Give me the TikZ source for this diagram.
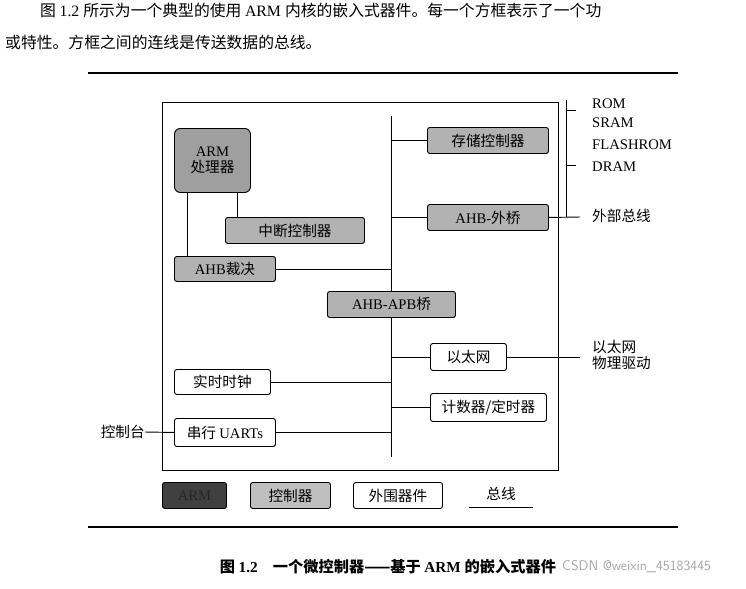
\documentclass[tikz,border=0pt]{standalone}
\usepackage{fontspec}
\setmainfont{Liberation Serif}
\newfontfamily\cjk{Noto Sans CJK SC}
\newcommand{\zh}[1]{{\cjk #1}}
\begin{document}
\begin{tikzpicture}[x=0.03cm,y=-0.03cm,
  every node/.style={font=\fontsize{12.5}{14}\selectfont, inner sep=0pt},
  box/.style={draw, line width=0.8pt, rounded corners=2pt, anchor=north west},
  ctl/.style={box, fill=gray!60},
  arm/.style={box, fill=gray!75, rounded corners=5pt},
  per/.style={box, fill=white},
  bus/.style={line width=0.8pt},
  lbl/.style={anchor=west, align=left}]
\useasboundingbox (0,0) rectangle (746,589);
% top text
\node[anchor=west, font=\fontsize{13.5}{16}\selectfont] (t1) at (40,10) {\zh{图 }1.2 \zh{所示为一个典型的使用 }ARM \zh{内核的嵌入式器件。每一个方框表示了一个功}};
\node[anchor=west, font=\fontsize{13.5}{16}\selectfont] (t2) at (5,42) {\zh{或特性。方框之间的连线是传送数据的总线。}};
\draw[line width=1pt] (88,73) -- (678,73);
\draw[line width=1pt] (88,527) -- (678,527);
% main frame
\draw[line width=0.8pt] (162,102) rectangle (558,470);
% nodes
\node[arm, minimum width=76*0.03cm, minimum height=64*0.03cm, align=center] (armp) at (174,128) {ARM\\\zh{处理器}};
\node[ctl, minimum width=121*0.03cm, minimum height=26*0.03cm] (mem) at (427,127) {\zh{存储控制器}};
\node[ctl, minimum width=121*0.03cm, minimum height=26*0.03cm] (ext) at (427,204) {AHB-\zh{外桥}};
\node[ctl, minimum width=139*0.03cm, minimum height=26*0.03cm] (irq) at (225,217) {\zh{中断控制器}};
\node[ctl, minimum width=101*0.03cm, minimum height=25*0.03cm] (arb) at (174,256) {AHB\zh{裁决}};
\node[ctl, minimum width=128*0.03cm, minimum height=26*0.03cm] (apb) at (327,291) {AHB-APB\zh{桥}};
\node[per, minimum width=76*0.03cm, minimum height=27*0.03cm] (eth) at (430,343) {\zh{以太网}};
\node[per, minimum width=96*0.03cm, minimum height=25*0.03cm] (rtc) at (174,369) {\zh{实时时钟}};
\node[per, minimum width=116*0.03cm, minimum height=28*0.03cm] (tmr) at (430,393) {\zh{计数器/定时器}};
\node[per, minimum width=101*0.03cm, minimum height=28*0.03cm] (uart) at (174,418) {\zh{串行 }UARTs};
% bus
\coordinate (bt) at (391,116);
\coordinate (bb) at (391,457);
\draw[bus] (bt) -- (apb.north -| bt);
\draw[bus] (apb.south -| bt) -- (bb);
\draw[bus] (mem.west -| bt) -- (mem.west);
\draw[bus] (ext.west -| bt) -- (ext.west);
\draw[bus] (arb.east) -- (arb.east -| bt);
\draw[bus] (eth.west -| bt) -- (eth.west);
\draw[bus] (rtc.east) -- (rtc.east -| bt);
\draw[bus] (tmr.west -| bt) -- (tmr.west);
\draw[bus] (uart.east) -- (uart.east -| bt);
\draw[bus] (armp.south -| 187,0) -- (arb.north -| 187,0);
\draw[bus] (armp.south -| 237,0) -- (irq.north -| 237,0);
% external
\coordinate (xe) at (580,217);
\draw[bus] (ext.east) -- (xe);
\draw[bus] (566,100) -- (566,217);
\draw[bus] (566,110) -- (576,110);
\draw[bus] (566,165) -- (576,165);
\node[lbl] (rom) at (592,104) {ROM};
\node[lbl] (sram) at (592,123) {SRAM};
\node[lbl] (flash) at (592,145) {FLASHROM};
\node[lbl] (dram) at (592,167) {DRAM};
\node[lbl] (xbus) at (592,216) {\zh{外部总线}};
\node[lbl, align=left] (phy) at (592,355) {\zh{以太网}\\\zh{物理驱动}};
\coordinate (pe) at (580,356);
\draw[bus] (eth.east) -- (eth.east -| pe);
\node[anchor=east] (con) at (145,432) {\zh{控制台}};
\draw[bus] (con.east) -- (uart.west);
% legend
\node[box, fill=black!75, minimum width=64*0.03cm, minimum height=26*0.03cm, text=black!85] (l1) at (162,482) {ARM};
\node[box, fill=gray!50, minimum width=80*0.03cm, minimum height=26*0.03cm] (l2) at (250,482) {\zh{控制器}};
\node[per, minimum width=89*0.03cm, minimum height=26*0.03cm] (l3) at (353,482) {\zh{外围器件}};
\node (l4) at (501,494) {\zh{总线}};
\draw[bus] (469,507) -- (533,507);
% caption
\node[font=\fontsize{13}{15}\selectfont] (cap) at (388,567) {\bfseries\zh{图 }1.2\quad\zh{一个微控制器——基于 }ARM \zh{的嵌入式器件}};
\node[anchor=west, text=gray!70, font=\fontsize{12}{14}\sffamily] (wm) at (562,567) {CSDN @weixin\_45183445};
\end{tikzpicture}
\end{document}
